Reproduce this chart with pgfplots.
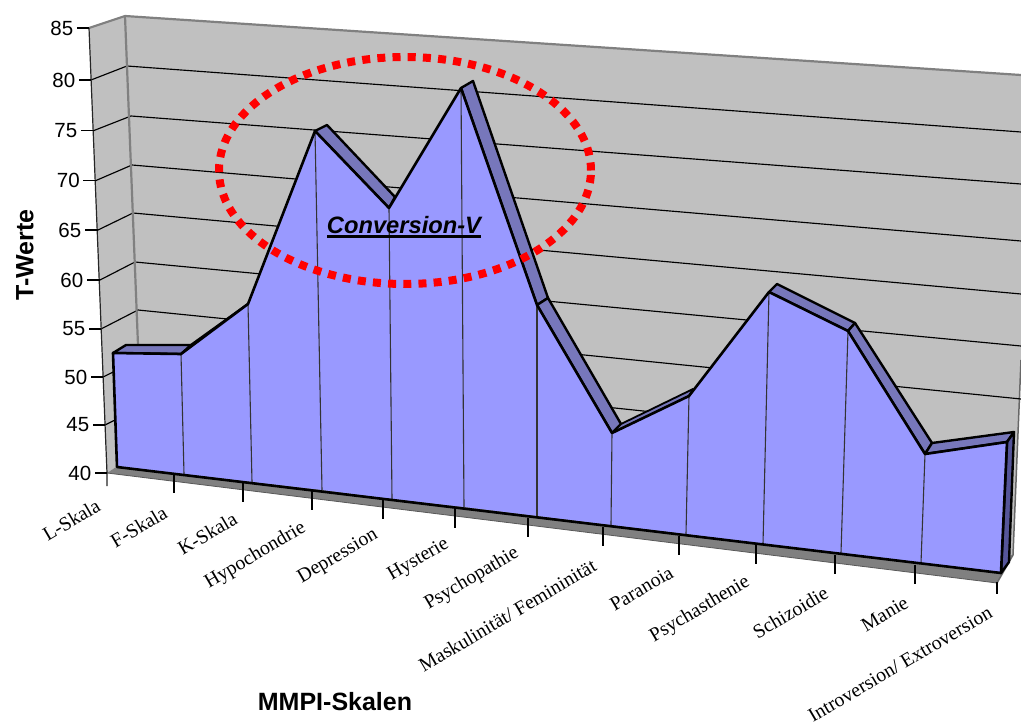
\documentclass[border=0pt]{standalone}
\usepackage{fontspec}
\setmainfont{Liberation Sans}
\newfontfamily\tms{Liberation Serif}
\usepackage{pgfplots}
\pgfplotsset{compat=1.18}
\definecolor{wallc}{HTML}{C0C0C0}
\definecolor{floorc}{HTML}{808080}
\definecolor{facec}{HTML}{9999FF}
\definecolor{ribc}{HTML}{7777BB}
\definecolor{sidec}{HTML}{555599}
\pgfplotsset{
  gridl/.style={draw=black,line width=1.15pt},
  tickl/.style={draw=black,line width=1.05pt},
  drop/.style={draw=black!80,line width=1.1pt},
  rib/.style={fill=ribc,draw=black,line width=2.4pt,line join=round},
}
\newcommand{\ylab}[3]{\node[anchor=east,inner sep=0pt,font=\fontsize{20.5}{21}\selectfont] at (axis cs:#1,#2) {#3};}
\newcommand{\xlab}[3]{\node[anchor=east,inner sep=0pt,rotate=30.5,font=\tms\fontsize{19.8}{21}\selectfont] at (axis cs:#1-1.5,#2-6) {#3};}
\begin{document}
\begin{tikzpicture}
\path[use as bounding box] (0,0) rectangle (1021pt,725pt);
\begin{axis}[scale only axis,width=1021pt,height=725pt,xmin=0,xmax=1021,ymin=0,ymax=725,
  y dir=reverse,axis lines=none,no markers,clip=true]
% walls and floor (picture coordinates of the perspective drawing)
\addplot[fill=wallc,draw=none] coordinates {(89,28)(125,16)(1021,75)(1021,360)(1013,555)(142,450)(107,473)} -- cycle;
\addplot[fill=floorc,draw=none] coordinates {(107,473)(142,450)(1013,555)(997,583)} -- cycle;
\addplot[draw=black!65,line width=0.8pt] coordinates {(107,473)(997,583)};
\addplot[draw=floorc!120!white,line width=1.5pt] coordinates {(1021,360)(1013,555)(997,583)};
% grid lines T = 80 ... 45
\addplot[gridl] coordinates {(91,80)(127,66)(1021,132)};
\addplot[gridl] coordinates {(94,130.5)(131,116)(1021,184)};
\addplot[gridl] coordinates {(96,180.5)(132,165)(1021,241)};
\addplot[gridl] coordinates {(98,230)(133,213)(1021,294)};
\addplot[gridl] coordinates {(100,280)(135,262)(1021,346)};
\addplot[gridl] coordinates {(101,329)(138,310)(1021,399)};
\addplot[gridl] coordinates {(103,377)(142,358)(700,417)};
\addplot[gridl] coordinates {(105,425)(125,415)};
% wall edges
\addplot[draw=floorc,line width=2.2pt] coordinates {(89,28)(125,16)(1021,75)};
\addplot[draw=floorc,line width=2.2pt] coordinates {(125,16)(138,345)};
\addplot[draw=black!85,line width=1.2pt] coordinates {(89,28)(107,473)(107,486)};
% y ticks
\addplot[tickl] coordinates {(77,28)(89,28)};
\addplot[tickl] coordinates {(79,80)(91,80)};
\addplot[tickl] coordinates {(81,130.5)(94,130.5)};
\addplot[tickl] coordinates {(83,180.5)(96,180.5)};
\addplot[tickl] coordinates {(85,230)(98,230)};
\addplot[tickl] coordinates {(87,280)(100,280)};
\addplot[tickl] coordinates {(89,329)(101,329)};
\addplot[tickl] coordinates {(91,377)(103,377)};
\addplot[tickl] coordinates {(93,425)(105,425)};
\addplot[tickl] coordinates {(95,473)(107,473)};
% x ticks
\addplot[tickl] coordinates {(174,474)(174,493)};
\addplot[tickl] coordinates {(243,483)(243,502)};
\addplot[tickl] coordinates {(312,491)(312,510)};
\addplot[tickl] coordinates {(383,500)(383,519)};
\addplot[tickl] coordinates {(455,509)(455,528)};
\addplot[tickl] coordinates {(528,518)(528,537)};
\addplot[tickl] coordinates {(603,527)(603,546)};
\addplot[tickl] coordinates {(679,536)(679,555)};
\addplot[tickl] coordinates {(756,545)(756,564)};
\addplot[tickl] coordinates {(835,555)(835,574)};
\addplot[tickl] coordinates {(915,565)(915,584)};
\addplot[tickl] coordinates {(997,582)(997,594)};
% back silhouette behind the rising parts
\addplot[draw=black,line width=2.4pt] coordinates {(191,345)(248,304)};
% top ribbons of the area
\addplot[rib] coordinates {(113,353)(126,345)(191,345)(181,354)} -- cycle;
\addplot[rib] coordinates {(315,131)(327,125)(395,197)(389,208)} -- cycle;
\addplot[rib] coordinates {(461,88)(473,81)(548,298)(537,305)} -- cycle;
\addplot[rib] coordinates {(537,305)(548,298)(621,424)(612,433)} -- cycle;
\addplot[rib,line width=1.8pt] coordinates {(612,433)(621,424)(693,389)(689,396)} -- cycle;
\addplot[rib] coordinates {(769,292)(777,284)(855,323)(848,331)} -- cycle;
\addplot[rib] coordinates {(848,331)(855,323)(932,443)(925,454)} -- cycle;
\addplot[rib] coordinates {(925,454)(932,443)(1014,432)(1007,442)} -- cycle;
\addplot[fill=sidec,draw=black,line width=2.4pt,line join=round] coordinates {(1007,442)(1014,432)(1009,562)(1001,573)} -- cycle;
% front face of the area
\addplot[fill=facec,draw=none] coordinates {
(113,353)(181,354)(248,304)(315,131)(389,208)(461,88)(537,305)(612,433)(689,396)(769,292)(848,331)(925,454)(1007,442)
(1001,573)(921,563)(841,553)(763,544)(686,534)(611,525)(537,516)(464,507)(392,499)(322,490)(252,482)(184,474)(117,467)} -- cycle;
% drop lines
\addplot[drop] coordinates {(181,354)(184,474)};
\addplot[drop] coordinates {(248,304)(252,482)};
\addplot[drop] coordinates {(315,131)(322,490)};
\addplot[drop] coordinates {(389,208)(392,499)};
\addplot[drop] coordinates {(461,88)(464,507)};
\addplot[drop] coordinates {(537,305)(537,516)};
\addplot[drop] coordinates {(612,433)(611,525)};
\addplot[drop] coordinates {(689,396)(686,534)};
\addplot[drop] coordinates {(769,292)(763,544)};
\addplot[drop] coordinates {(848,331)(841,553)};
\addplot[drop] coordinates {(925,454)(921,563)};
% outline of the front face
\addplot[draw=black,line width=2.6pt,line join=round] coordinates {
(113,353)(181,354)(248,304)(315,131)(389,208)(461,88)(537,305)(612,433)(689,396)(769,292)(848,331)(925,454)(1007,442)
(1001,573)(117,467)} -- cycle;
% tick labels
\ylab{73.5}{28}{85}\ylab{75.5}{80}{80}\ylab{77.5}{130.5}{75}\ylab{80}{180.5}{70}\ylab{81.5}{230}{65}
\ylab{83.5}{280}{60}\ylab{85.5}{329}{55}\ylab{87.5}{377}{50}\ylab{89.5}{425}{45}\ylab{91.5}{473}{40}
\xlab{100}{510}{L-Skala}
\xlab{167}{517}{F-Skala}
\xlab{237}{523}{K-Skala}
\xlab{306}{533}{Hypochondrie}
\xlab{378}{540}{Depression}
\xlab{449}{549}{Hysterie}
\xlab{519}{558}{Psychopathie}
\xlab{596}{570}{Maskulinität/ Femininität}
\xlab{673}{577}{Paranoia}
\xlab{750}{587}{Psychasthenie}
\xlab{828}{597}{Schizoidie}
\xlab{908}{607}{Manie}
\xlab{992}{617}{Introversion/ Extroversion}
% axis titles
\node[font=\bfseries\fontsize{25}{26}\selectfont,inner sep=0pt] at (axis cs:335,702) {MMPI-Skalen};
\node[font=\bfseries\fontsize{25}{26}\selectfont,inner sep=0pt,rotate=90] at (axis cs:25,255) {T-Werte};
% annotation
\node[font=\bfseries\itshape\fontsize{23.7}{25}\selectfont,inner sep=0pt] at (axis cs:404,225) {Conversion-V};
\addplot[draw=black,line width=2.6pt] coordinates {(327,236.5)(481,236.5)};
\draw[red,line width=8pt,dash pattern=on 8pt off 7.2pt] (axis cs:405,170.5) ellipse [x radius=186pt,y radius=113.5pt];
\end{axis}
\end{tikzpicture}
\end{document}
